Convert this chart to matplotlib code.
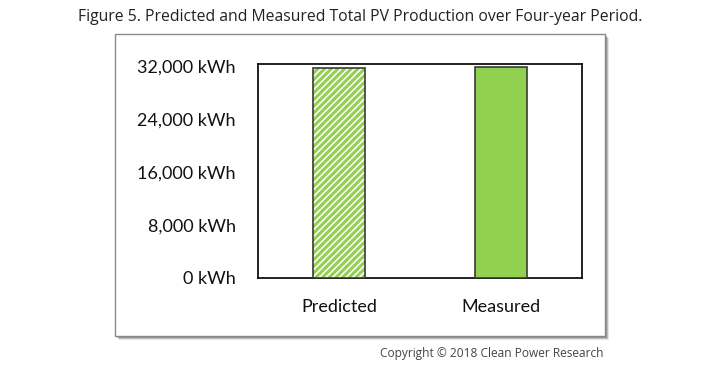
import matplotlib
matplotlib.use("Agg")
import matplotlib.pyplot as plt
from matplotlib.patches import Rectangle
from matplotlib.ticker import FuncFormatter

# data
categories = ["Predicted", "Measured"]
production = [31700, 31900]
yticks = [0, 8000, 16000, 24000, 32000]

green = "#92D050"
W, H = 720, 376

fig = plt.figure(figsize=(7.2, 3.76), dpi=100)

def px_box(x0, y0, x1, y1):
    # pixel coords (top-left origin) -> figure fraction
    return [x0 / W, 1 - y1 / H, (x1 - x0) / W, (y1 - y0) / H]

# outer chart frame with a soft shadow
for i, a in enumerate([0.10, 0.16, 0.24]):
    off = 4 - i
    fig.patches.append(Rectangle(((115 + off) / W, 1 - (336 + off) / H), 490 / W, 302 / H,
                                 transform=fig.transFigure, facecolor="#000000", alpha=a,
                                 edgecolor="none", zorder=0))
fig.patches.append(Rectangle((115 / W, 1 - 336 / H), 490 / W, 302 / H,
                             transform=fig.transFigure, facecolor="white",
                             edgecolor="#8a8a8a", linewidth=1, zorder=1))

ax = fig.add_axes(px_box(258, 64, 582, 278))
ax.set_zorder(2)
ax.patch.set_alpha(0)

plt.rcParams["hatch.linewidth"] = 2.2
x = range(len(categories))
# hatched fill for the predicted bar (hatch takes the edge colour)
ax.bar(x[0], production[0], width=0.32, color="white", edgecolor=green,
       linewidth=0, hatch="/////", zorder=3)
ax.bar(x[1], production[1], width=0.32, color=green, linewidth=0, zorder=3)
# outlines
ax.bar(x, production, width=0.32, fill=False, edgecolor="#3a3a3a", linewidth=1.2, zorder=4)

ax.set_xlim(-0.5, 1.5)
ax.set_ylim(0, 32300)
ax.set_yticks(yticks)
ax.yaxis.set_major_formatter(FuncFormatter(lambda v, p: f"{int(v):,} kWh"))
ax.set_xticks(list(x))
ax.set_xticklabels(categories)
ax.tick_params(length=0, labelsize=13, colors="#111111")
ax.tick_params(axis="y", pad=16)
ax.tick_params(axis="x", pad=15)
for lab in ax.get_xticklabels() + ax.get_yticklabels():
    lab.set_family(["Lato", "DejaVu Sans"])
for s in ax.spines.values():
    s.set_color("#111111")
    s.set_linewidth(1.3)

fig.text(0.5, 1 - 17 / H, "Figure 5. Predicted and Measured Total PV Production over Four-year Period.",
         ha="center", va="center", fontsize=11.3, family=["Open Sans", "DejaVu Sans"], color="#222222")
fig.text(604 / W, 1 - 353 / H, "Copyright \u00a9 2018 Clean Power Research",
         ha="right", va="center", fontsize=8.6, family=["Open Sans", "DejaVu Sans"], color="#444444")

fig.savefig("out.png", dpi=100)
